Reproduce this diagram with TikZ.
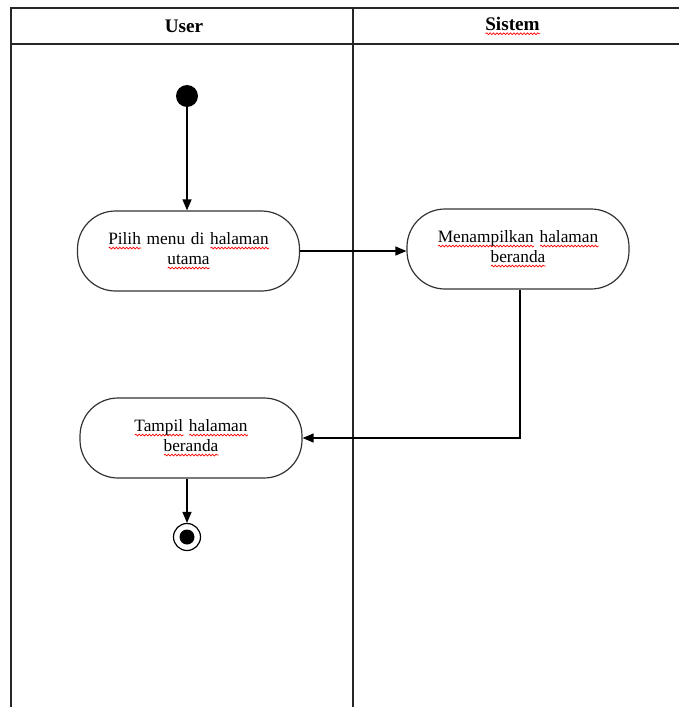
\documentclass[tikz,border=0pt]{standalone}
\usepackage{fontspec}
\setmainfont{Liberation Serif}
\usetikzlibrary{arrows.meta,decorations.pathmorphing}
% red wavy underline for flagged words
\newsavebox\wordbox
\newcommand\spellwave[1]{\sbox\wordbox{#1}\leavevmode\rlap{\tikz[baseline=0pt,x=1pt,y=1pt,sharp corners]\draw[red, line width=0.7pt, sharp corners, decorate, decoration={snake,amplitude=0.9pt,segment length=3.4pt}] (0pt,-3.4pt) -- (\wd\wordbox,-3.4pt);}\usebox\wordbox}
\tikzset{
  frame/.style={line width=1.5pt, draw=black!85},
  activity/.style={draw=black!80, line width=1.2pt, rectangle, rounded corners=38pt,
    minimum width=222pt, minimum height=80pt, text width=200pt, align=center,
    font=\fontsize{17.3}{20}\selectfont},
  flow/.style={line width=1.3pt, -{Triangle[length=11pt,width=9pt]}},
  lane/.style={font=\fontsize{19.2}{22}\selectfont\bfseries}
}
\begin{document}
\begin{tikzpicture}[x=1pt,y=-1pt]
\useasboundingbox (0,0) rectangle (679,707);
% swimlane table
\draw[frame] (11,707) -- (11,8) -- (679,8);
\draw[frame] (11,44) -- (679,44);
\draw[frame] (353,8) -- (353,707);
\node[lane] (user) at (184,26) {User};
\node[lane] (sys) at (512.5,26) {\spellwave{Sistem}};
% start and end states
\node[circle, fill=black, minimum size=22pt, inner sep=0pt] (start) at (187,96) {};
\node[circle, draw=black, line width=1.2pt, minimum size=27pt, inner sep=0pt] (end) at (187,537) {};
\node[circle, fill=black, minimum size=15pt, inner sep=0pt] (endin) at (187,537) {};
% activities
\node[activity] (pilih) at (188.5,251) {\spellwave{Pilih} menu di \spellwave{halaman}\\ \spellwave{utama}};
\node[activity] (tampilkan) at (518,249) {\spellwave{Menampilkan} \spellwave{halaman}\\ \spellwave{beranda}};
\node[activity] (tampil) at (191,438) {\spellwave{Tampil} \spellwave{halaman}\\ \spellwave{beranda}};
% transitions
\draw[flow] (start) -- (start |- pilih.north);
\draw[flow] (pilih.east) -- (tampilkan.west |- pilih.east);
\draw[flow] (tampilkan.south -| 520,0) |- (tampil.east);
\draw[flow] (tampil.south -| end) -- (end);
\end{tikzpicture}
\end{document}
